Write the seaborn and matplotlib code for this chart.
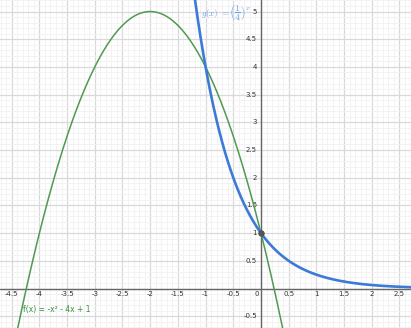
import numpy as np
import pandas as pd
import matplotlib
matplotlib.use("Agg")
import matplotlib.pyplot as plt
import seaborn as sns

# --- data (from the chart's labels) ---
f_coeffs = [-1.0, -4.0, 1.0]          # f(x) = -x^2 - 4x + 1
g_base = 0.25                          # g(x) = (1/4)^x
x_ticks = [-4.5, -4, -3.5, -3, -2.5, -2, -1.5, -1, -0.5, 0, 0.5, 1, 1.5, 2, 2.5]
x_tick_labels = ["-4.5", "-4", "-3.5", "-3", "-2.5", "-2", "-1.5", "-1", "-0.5", "0",
                 "0.5", "1", "1.5", "2", "2.5"]
y_ticks = [-0.5, 0.5, 1, 1.5, 2, 2.5, 3, 3.5, 4, 4.5, 5]
y_tick_labels = ["-0.5", "0.5", "1", "1.5", "2", "2.5", "3", "3.5", "4", "4.5", "5"]
point_x = [0]
point_y = [1]

xmin, xmax = -4.711, 2.708
ymin, ymax = -0.713, 5.208

xs = np.linspace(xmin, xmax, 800)
df_f = pd.DataFrame({"x": xs, "y": np.polyval(f_coeffs, xs)})
df_g = pd.DataFrame({"x": xs, "y": g_base ** xs})

sns.set_theme(style="white")
fig = plt.figure(figsize=(4.11, 3.28), dpi=100)
ax = fig.add_axes([0, 0, 1, 1])
ax.set_xlim(xmin, xmax)
ax.set_ylim(ymin, ymax)
for s in ax.spines.values():
    s.set_visible(False)

# grid
ax.set_xticks(np.arange(-4.5, 3.0, 0.5))
ax.set_yticks(np.arange(-0.5, 5.5, 0.5))
ax.set_xticks(np.arange(-4.7, 2.8, 0.1), minor=True)
ax.set_yticks(np.arange(-0.7, 5.3, 0.1), minor=True)
ax.grid(which="major", color="#d9d9d9", linewidth=0.9)
ax.grid(which="minor", color="#f1f1f1", linewidth=0.6)
ax.tick_params(which="both", length=0, labelbottom=False, labelleft=False)
ax.set_axisbelow(True)

# axes lines
ax.axhline(0, color="#666666", linewidth=1.0, zorder=1.5)
ax.axvline(0, color="#666666", linewidth=1.0, zorder=1.5)

# tick labels placed near axes
px = (xmax - xmin) / 411.0
py = (ymax - ymin) / 328.0
for v, lab in zip(x_ticks, x_tick_labels):
    xv = v - 4 * px if v == 0 else v
    ax.text(xv, -5 * py, lab, fontsize=5, color="#333333",
            ha="center", va="center")
for v, lab in zip(y_ticks, y_tick_labels):
    ax.text(-4 * px, v, lab, fontsize=5, color="#333333", ha="right", va="center")

# curves
sns.lineplot(data=df_f, x="x", y="y", ax=ax, color="#4f9a50", linewidth=1.1,
             zorder=3, sort=False)
sns.lineplot(data=df_g, x="x", y="y", ax=ax, color="#3c7ad6", linewidth=1.9,
             zorder=4, sort=False)
ax.set_xlabel("")
ax.set_ylabel("")
ax.set_xlim(xmin, xmax)
ax.set_ylim(ymin, ymax)

# point
sns.scatterplot(x=point_x, y=point_y, ax=ax, color="#555555", s=16,
                edgecolor="#444444", linewidth=0.5, zorder=5)

# labels
ax.text(-4.296, -0.388, "f(x) = -x² - 4x + 1", fontsize=5.5, color="#3f8f3f",
        ha="left", va="center")
ax.text(-1.09, 4.96, r"$g(x)\ =$", fontsize=6.5,
        color="#6a9ee0", ha="left", va="center", math_fontfamily="cm")
ax.text(-0.57, 4.96, r"$\left(\dfrac{1}{4}\right)^{x}$", fontsize=7,
        color="#6a9ee0", ha="left", va="center", math_fontfamily="cm")

fig.savefig("out.png", dpi=100)
